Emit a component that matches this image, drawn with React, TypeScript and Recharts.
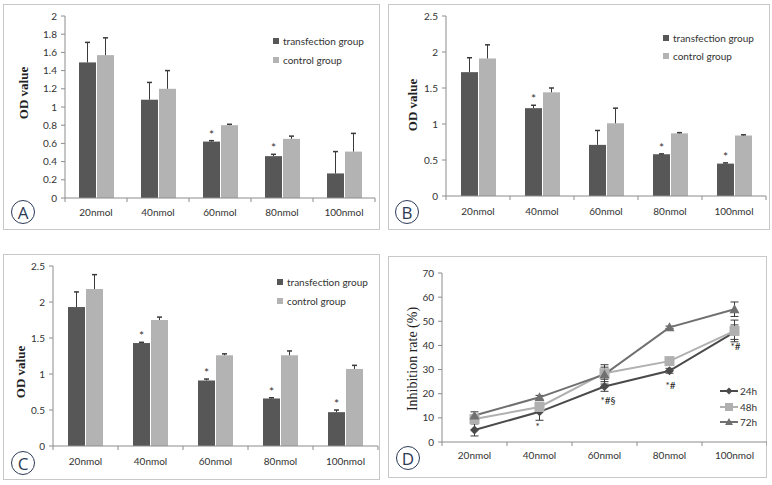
import { BarChart, Bar, XAxis, YAxis, LineChart, Line, ErrorBar, LabelList } from "recharts";

const CATEGORIES = ["20nmol", "40nmol", "60nmol", "80nmol", "100nmol"];

// panel A
const A_TRANSFECTION = [1.49, 1.08, 0.62, 0.46, 0.27];
const A_TRANSFECTION_ERR = [0.22, 0.19, 0.01, 0.02, 0.24];
const A_CONTROL = [1.57, 1.2, 0.8, 0.65, 0.51];
const A_CONTROL_ERR = [0.19, 0.2, 0.01, 0.03, 0.2];
const A_STARS = [false, false, true, true, false];
const A_TICKS = [0, 0.2, 0.4, 0.6, 0.8, 1, 1.2, 1.4, 1.6, 1.8, 2];

// panel B
const B_TRANSFECTION = [1.72, 1.22, 0.71, 0.58, 0.45];
const B_TRANSFECTION_ERR = [0.2, 0.04, 0.2, 0.005, 0.01];
const B_CONTROL = [1.91, 1.44, 1.01, 0.87, 0.84];
const B_CONTROL_ERR = [0.19, 0.06, 0.21, 0.01, 0.01];
const B_STARS = [false, true, false, true, true];

// panel C
const C_TRANSFECTION = [1.93, 1.43, 0.91, 0.66, 0.47];
const C_TRANSFECTION_ERR = [0.21, 0.01, 0.02, 0.01, 0.03];
const C_CONTROL = [2.18, 1.75, 1.26, 1.26, 1.07];
const C_CONTROL_ERR = [0.2, 0.04, 0.02, 0.06, 0.05];
const C_STARS = [false, true, true, true, true];

const BC_TICKS = [0, 0.5, 1, 1.5, 2, 2.5];

// panel D
const D_24H = [5, 12.5, 23, 29.5, 45.5];
const D_24H_ERR = [2.5, 3.5, 2, 1, 3];
const D_48H = [9.5, 14.5, 28.5, 33.5, 46];
const D_48H_ERR = [1.5, 1.5, 2.5, 1, 4.5];
const D_72H = [11, 18.5, 28, 47.5, 55];
const D_72H_ERR = [1.5, 0.8, 4, 0.5, 3];
const D_NOTES = ["", "*", "*#§", "*#", "*#"];
const D_TICKS = [0, 10, 20, 30, 40, 50, 60, 70];

const DARK = "#575757";
const LIGHT = "#b3b3b3";
const ERR = "#3a3a3a";
const AXIS = "#8c8c8c";
const FONT = "Lato, 'Open Sans', sans-serif";

type Rect = { x: number; y: number; w: number; h: number };

function barRows(t: number[], te: number[], c: number[], ce: number[], stars: boolean[]) {
  return CATEGORIES.map((name, i) => ({
    name,
    transfection: t[i],
    tErr: te[i],
    tStar: stars[i],
    control: c[i],
    cErr: ce[i],
  }));
}

const dRows = CATEGORIES.map((name, i) => ({
  name,
  h24: D_24H[i],
  e24: D_24H_ERR[i],
  h48: D_48H[i],
  e48: D_48H_ERR[i],
  h72: D_72H[i],
  e72: D_72H_ERR[i],
  note: D_NOTES[i],
}));

function makeBarShape(fill: string, errKey: string, starKey?: string) {
  return (props: any) => {
    const { x, y, width, height, payload, value } = props;
    const v = Array.isArray(value) ? value[1] - value[0] : value;
    const perUnit = v ? height / v : 0;
    const cx = x + width / 2;
    const top = y - payload[errKey] * perUnit;
    return (
      <g>
        <rect x={x} y={y} width={width} height={height} fill={fill} />
        <line x1={cx} y1={y} x2={cx} y2={top} stroke={ERR} strokeWidth={1} />
        <line x1={cx - 2.5} x2={cx + 2.5} y1={top} y2={top} stroke={ERR} strokeWidth={1.5} />
        {starKey && payload[starKey] ? (
          <text x={cx} y={top - 2} textAnchor="middle" fontSize={12} fill="#333" fontFamily={FONT}>
            *
          </text>
        ) : null}
      </g>
    );
  };
}

function CatTick(props: any) {
  const { x, payload, index, bw, axisY, labelDy } = props;
  return (
    <g>
      <line x1={x + bw / 2} x2={x + bw / 2} y1={axisY} y2={axisY + 4} stroke={AXIS} />
      {index === 0 ? <line x1={x - bw / 2} x2={x - bw / 2} y1={axisY} y2={axisY + 4} stroke={AXIS} /> : null}
      <text x={x} y={axisY + labelDy} textAnchor="middle" fontSize={10} fill="#333" fontFamily={FONT}>
        {payload.value}
      </text>
    </g>
  );
}

function Frame({ box, children }: { box: Rect; children: any }) {
  return (
    <div
      style={{
        position: "absolute",
        left: box.x,
        top: box.y,
        width: box.w,
        height: box.h,
        border: "1px solid #c8c8c8",
        boxSizing: "border-box",
      }}
    >
      <div style={{ position: "absolute", left: -1, top: -1 }}>{children}</div>
    </div>
  );
}

function Letter({ x, y, ch }: { x: number; y: number; ch: string }) {
  return (
    <div
      style={{
        position: "absolute",
        left: x - 12,
        top: y - 12,
        width: 24,
        height: 24,
        borderRadius: "50%",
        border: "1.3px solid #2d3a56",
        boxSizing: "border-box",
        display: "flex",
        alignItems: "center",
        justifyContent: "center",
        fontFamily: "'Open Sans', sans-serif",
        fontSize: 17,
        color: "#2d3a56",
        background: "#fff",
      }}
    >
      {ch}
    </div>
  );
}

function AxisTitle({ x, y, text, bold, size }: { x: number; y: number; text: string; bold?: boolean; size: number }) {
  return (
    <div
      style={{
        position: "absolute",
        left: x,
        top: y,
        transform: "translate(-50%, -50%) rotate(-90deg)",
        whiteSpace: "nowrap",
        fontFamily: "'Liberation Serif', serif",
        fontWeight: bold ? 700 : 400,
        fontSize: size,
        color: "#222",
        lineHeight: 1,
      }}
    >
      {text}
    </div>
  );
}

function BarLegend({ x, y, gap }: { x: number; y: number; gap: number }) {
  const items = [
    { label: "transfection group", color: DARK },
    { label: "control group", color: LIGHT },
  ];
  return (
    <>
      {items.map((it, i) => (
        <div
          key={it.label}
          style={{
            position: "absolute",
            left: x,
            top: y + i * gap - 7,
            height: 14,
            display: "flex",
            alignItems: "center",
            gap: 4,
            fontFamily: FONT,
            fontSize: 10,
            color: "#333",
            whiteSpace: "nowrap",
          }}
        >
          <span style={{ display: "block", width: 6, height: 6, background: it.color }} />
          {it.label}
        </div>
      ))}
    </>
  );
}

function BarPanel({
  box,
  plot,
  rows,
  max,
  ticks,
  labelDy,
}: {
  box: Rect;
  plot: Rect;
  rows: any[];
  max: number;
  ticks: number[];
  labelDy: number;
}) {
  const bw = plot.w / CATEGORIES.length;
  const axisY = plot.y + plot.h - box.y;
  return (
    <BarChart
      width={box.w}
      height={box.h}
      data={rows}
      margin={{ top: plot.y - box.y, right: box.x + box.w - plot.x - plot.w, left: 0, bottom: 0 }}
      barSize={17}
      barGap={1}
    >
      <XAxis
        dataKey="name"
        height={box.y + box.h - plot.y - plot.h}
        axisLine={{ stroke: AXIS }}
        tickLine={false}
        interval={0}
        tick={(p: any) => <CatTick key={p.index} {...p} bw={bw} axisY={axisY} labelDy={labelDy} />}
      />
      <YAxis
        width={plot.x - box.x}
        domain={[0, max]}
        ticks={ticks}
        axisLine={{ stroke: AXIS }}
        tickLine={{ stroke: AXIS }}
        tickSize={4}
        tickMargin={4}
        tick={{ fontSize: 10, fill: "#333", fontFamily: FONT }}
        interval={0}
      />
      <Bar dataKey="transfection" isAnimationActive={false} shape={makeBarShape(DARK, "tErr", "tStar")} />
      <Bar dataKey="control" isAnimationActive={false} shape={makeBarShape(LIGHT, "cErr")} />
    </BarChart>
  );
}

function Diamond(props: any) {
  const { cx, cy } = props;
  const r = 4.5;
  return <path d={`M${cx},${cy - r}L${cx + r},${cy}L${cx},${cy + r}L${cx - r},${cy}Z`} fill="#4a4a4a" />;
}

function Square(props: any) {
  const { cx, cy } = props;
  return <rect x={cx - 5} y={cy - 5} width={10} height={10} fill="#b0b0b0" />;
}

function Triangle(props: any) {
  const { cx, cy } = props;
  return <path d={`M${cx},${cy - 5}L${cx + 5},${cy + 4}L${cx - 5},${cy + 4}Z`} fill="#707070" />;
}

function NoteLabel(props: any) {
  const { x, y, value } = props;
  if (!value) return null;
  return (
    <text x={x - 4} y={y + 18} fontSize={10} fill="#222" fontFamily={FONT}>
      {value}
    </text>
  );
}

function LinePanel({ box, plot }: { box: Rect; plot: Rect }) {
  const bw = plot.w / CATEGORIES.length;
  const axisY = plot.y + plot.h - box.y;
  return (
    <LineChart
      width={box.w}
      height={box.h}
      data={dRows}
      margin={{ top: plot.y - box.y, right: box.x + box.w - plot.x - plot.w, left: 0, bottom: 0 }}
    >
      <XAxis
        dataKey="name"
        height={box.y + box.h - plot.y - plot.h}
        padding={{ left: bw / 2, right: bw / 2 }}
        axisLine={{ stroke: AXIS }}
        tickLine={false}
        interval={0}
        tick={(p: any) => <CatTick key={p.index} {...p} bw={bw} axisY={axisY} labelDy={17} />}
      />
      <YAxis
        width={plot.x - box.x}
        domain={[0, 70]}
        ticks={D_TICKS}
        axisLine={{ stroke: AXIS }}
        tickLine={{ stroke: AXIS }}
        tickSize={4}
        tickMargin={4}
        tick={{ fontSize: 10, fill: "#333", fontFamily: FONT }}
        interval={0}
      />
      <Line
        dataKey="h24"
        stroke="#4a4a4a"
        strokeWidth={2}
        isAnimationActive={false}
        dot={(p: any) => <Diamond key={p.index} {...p} />}
      >
        <ErrorBar dataKey="e24" width={4} stroke={ERR} strokeWidth={1} />
        <LabelList dataKey="note" content={NoteLabel} />
      </Line>
      <Line
        dataKey="h48"
        stroke="#b0b0b0"
        strokeWidth={2}
        isAnimationActive={false}
        dot={(p: any) => <Square key={p.index} {...p} />}
      >
        <ErrorBar dataKey="e48" width={4} stroke={ERR} strokeWidth={1} />
      </Line>
      <Line
        dataKey="h72"
        stroke="#707070"
        strokeWidth={2}
        isAnimationActive={false}
        dot={(p: any) => <Triangle key={p.index} {...p} />}
      >
        <ErrorBar dataKey="e72" width={4} stroke={ERR} strokeWidth={1} />
      </Line>
    </LineChart>
  );
}

function LineLegend({ x, y, gap }: { x: number; y: number; gap: number }) {
  const items = [
    { label: "24h", color: "#4a4a4a", mark: "d" },
    { label: "48h", color: "#b0b0b0", mark: "s" },
    { label: "72h", color: "#707070", mark: "t" },
  ];
  return (
    <>
      {items.map((it, i) => (
        <div
          key={it.label}
          style={{
            position: "absolute",
            left: x,
            top: y + i * gap - 7,
            height: 14,
            display: "flex",
            alignItems: "center",
            gap: 2,
            fontFamily: FONT,
            fontSize: 10,
            color: "#333",
          }}
        >
          <svg width={18} height={10}>
            <line x1={0} x2={18} y1={5} y2={5} stroke={it.color} strokeWidth={2} />
            {it.mark === "d" ? <path d="M9,1.5L12.5,5L9,8.5L5.5,5Z" fill={it.color} /> : null}
            {it.mark === "s" ? <rect x={5} y={1} width={8} height={8} fill={it.color} /> : null}
            {it.mark === "t" ? <path d="M9,1L13,8L5,8Z" fill={it.color} /> : null}
          </svg>
          {it.label}
        </div>
      ))}
    </>
  );
}

export default function App() {
  const boxA = { x: 3, y: 4, w: 377, h: 226 };
  const boxB = { x: 388, y: 4, w: 382, h: 226 };
  const boxC = { x: 3, y: 254, w: 377, h: 226 };
  const boxD = { x: 388, y: 256, w: 379, h: 222 };
  return (
    <div style={{ position: "absolute", left: 0, top: 0, width: 772, height: 485, background: "#fff" }}>
      <Frame box={boxA}>
        <BarPanel
          box={boxA}
          plot={{ x: 65, y: 16, w: 310, h: 182 }}
          rows={barRows(A_TRANSFECTION, A_TRANSFECTION_ERR, A_CONTROL, A_CONTROL_ERR, A_STARS)}
          max={2}
          ticks={A_TICKS}
          labelDy={18}
        />
      </Frame>
      <Frame box={boxB}>
        <BarPanel
          box={boxB}
          plot={{ x: 446, y: 16, w: 320, h: 180 }}
          rows={barRows(B_TRANSFECTION, B_TRANSFECTION_ERR, B_CONTROL, B_CONTROL_ERR, B_STARS)}
          max={2.5}
          ticks={BC_TICKS}
          labelDy={19}
        />
      </Frame>
      <Frame box={boxC}>
        <BarPanel
          box={boxC}
          plot={{ x: 53, y: 266, w: 325, h: 180 }}
          rows={barRows(C_TRANSFECTION, C_TRANSFECTION_ERR, C_CONTROL, C_CONTROL_ERR, C_STARS)}
          max={2.5}
          ticks={BC_TICKS}
          labelDy={19}
        />
      </Frame>
      <Frame box={boxD}>
        <LinePanel box={boxD} plot={{ x: 442, y: 273, w: 325, h: 169 }} />
      </Frame>

      <AxisTitle x={23} y={93} text="OD value" bold size={13} />
      <AxisTitle x={412} y={105} text="OD value" bold size={13} />
      <AxisTitle x={20} y={372} text="OD value" bold size={13} />
      <AxisTitle x={413} y={359} text="Inhibition rate (%)" size={14} />

      <BarLegend x={273} y={41} gap={19} />
      <BarLegend x={663} y={38} gap={18} />
      <BarLegend x={277} y={282} gap={19} />
      <LineLegend x={720} y={391} gap={15.5} />

      <Letter x={23} y={212} ch="A" />
      <Letter x={407} y={212} ch="B" />
      <Letter x={23} y={463} ch="C" />
      <Letter x={408} y={458} ch="D" />
    </div>
  );
}
